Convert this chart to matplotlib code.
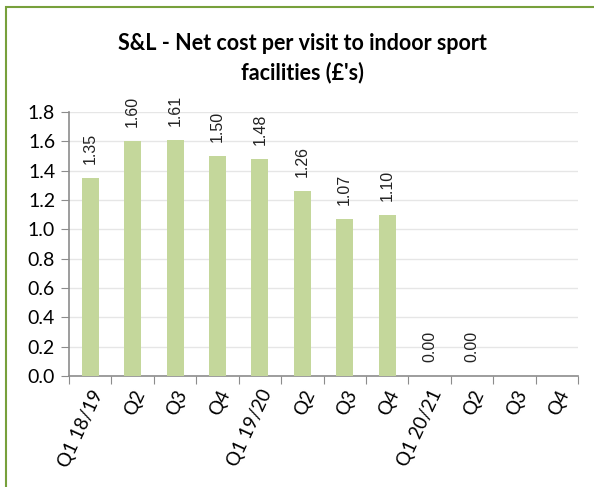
import numpy as np
import matplotlib.pyplot as plt
from matplotlib.patches import Rectangle

# Data
quarters = ["Q1 18/19", "Q2", "Q3", "Q4", "Q1 19/20", "Q2", "Q3", "Q4",
            "Q1 20/21", "Q2", "Q3", "Q4"]
net_cost = [1.35, 1.60, 1.61, 1.50, 1.48, 1.26, 1.07, 1.10, 0.00, 0.00, np.nan, np.nan]

bar_colour = "#C4D79B"
border_colour = "#77A03C"

fig = plt.figure(figsize=(5.94, 4.87), dpi=100)
ax = fig.add_axes([69 / 594, 1 - 376 / 487, (578 - 69) / 594, (376 - 112) / 487])

x = np.arange(len(quarters))
ax.bar(x, np.nan_to_num(net_cost), width=0.4, color=bar_colour, zorder=3)

for xi, v in zip(x, net_cost):
    if np.isnan(v):
        continue
    ax.annotate(f"{v:.2f}", (xi, v), xytext=(0, 10), textcoords="offset points",
                rotation=90, ha="center", va="bottom", fontsize=11.5,
                family="Liberation Sans", color="#222222")

ax.set_xlim(-0.5, len(quarters) - 0.5)
ax.set_ylim(0, 1.8)
ax.set_yticks(np.arange(0, 1.81, 0.2))
ax.set_yticklabels([f"{t:.1f}" for t in np.arange(0, 1.81, 0.2)],
                   fontsize=14, family="Lato")
ax.yaxis.grid(True, color="#E6E6E6", linewidth=1, zorder=0)
ax.set_axisbelow(True)

# category ticks sit between bars, labels under bar centres
ax.set_xticks(np.arange(-0.5, len(quarters), 1.0))
ax.set_xticklabels([])
ax.set_xticks(x, minor=True)
ax.set_xticklabels(quarters, minor=True, rotation=65, ha="right", va="top",
                   rotation_mode="anchor", fontsize=13.5, family="Lato")
ax.tick_params(axis="x", which="minor", length=0, pad=8)
ax.tick_params(axis="x", which="major", length=6, color="#8C8C8C", direction="out")
ax.tick_params(axis="y", length=6, color="#8C8C8C", direction="out", pad=4)

for s in ["top", "right"]:
    ax.spines[s].set_visible(False)
for s in ["left", "bottom"]:
    ax.spines[s].set_color("#8C8C8C")
    ax.spines[s].set_linewidth(1.2)

fig.text(302 / 594, 1 - 43 / 487, "S&L - Net cost per visit to indoor sport",
         ha="center", va="center", fontsize=15.5, fontweight="bold", family="Lato")
fig.text(302 / 594, 1 - 73 / 487, "facilities (£'s)",
         ha="center", va="center", fontsize=15.5, fontweight="bold", family="Lato")

# chart frame (cut off on right and bottom as in the reference)
fig.patches.append(Rectangle((6 / 594, -0.05), 1.2, 1 - 7 / 487 + 0.05,
                             transform=fig.transFigure, fill=False,
                             edgecolor=border_colour, linewidth=1.5))

fig.savefig("out.png", dpi=100)
